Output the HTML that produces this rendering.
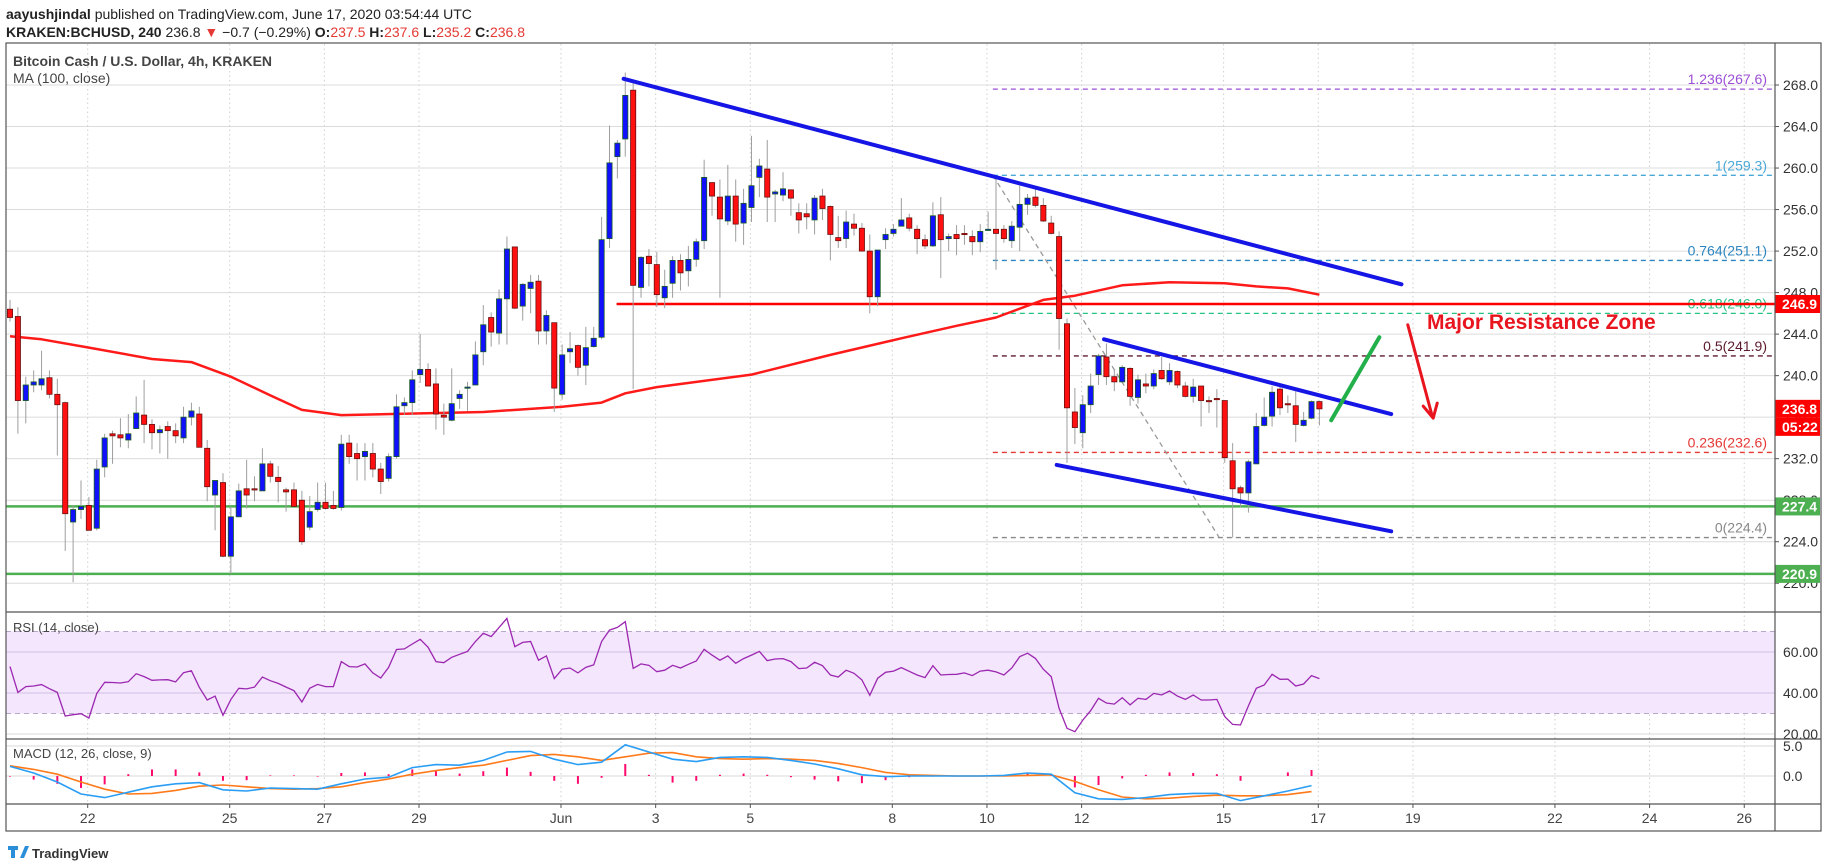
<!DOCTYPE html>
<html><head><meta charset="utf-8">
<style>
html,body{margin:0;padding:0;background:#fff;}
svg{display:block;font-family:"Liberation Sans",sans-serif;}
</style></head>
<body>
<svg id="chart" width="1828" height="868" viewBox="0 0 1828 868" xmlns="http://www.w3.org/2000/svg">
<text x="6" y="19" font-size="14" fill="#222"><tspan font-weight="bold">aayushjindal</tspan> published on TradingView.com, June 17, 2020 03:54:44 UTC</text>
<text x="6" y="37" font-size="14" fill="#222"><tspan font-weight="bold">KRAKEN:BCHUSD, 240</tspan> 236.8 <tspan fill="#e53935">▼</tspan> −0.7 (−0.29%) <tspan font-weight="bold">O:</tspan><tspan fill="#e53935">237.5</tspan> <tspan font-weight="bold">H:</tspan><tspan fill="#e53935">237.6</tspan> <tspan font-weight="bold">L:</tspan><tspan fill="#e53935">235.2</tspan> <tspan font-weight="bold">C:</tspan><tspan fill="#e53935">236.8</tspan></text>
<g id="grid"></g>
<g id="rsiBand"></g>
<g id="levels"></g>
<g id="candles"></g>
<g id="overlay"></g>
<g id="indicators"></g>
<g id="axes"></g>
<rect x="6" y="43" width="1815" height="788" fill="none" stroke="#555" stroke-width="1.2"/>
<line x1="1775" y1="43" x2="1775" y2="831" stroke="#555" stroke-width="1.2"/>
<line x1="6" y1="612" x2="1821" y2="612" stroke="#555" stroke-width="1.2"/>
<line x1="6" y1="739" x2="1821" y2="739" stroke="#555" stroke-width="1.2"/>
<line x1="6" y1="804" x2="1821" y2="804" stroke="#555" stroke-width="1.2"/>
<text x="13" y="66" font-size="14" fill="#444" font-weight="bold">Bitcoin Cash / U.S. Dollar, 4h, KRAKEN</text>
<text x="13" y="83" font-size="14" fill="#444">MA (100, close)</text>
<text x="13" y="632" font-size="13" fill="#444">RSI (14, close)</text>
<text x="13" y="758" font-size="13" fill="#444">MACD (12, 26, close, 9)</text>
<text x="1427" y="329" font-size="21" font-weight="bold" fill="#e8141e">Major Resistance Zone</text>
<g>
<path d="M8 846 h10 v4 h-3 v8 h-4 v-8 h-3z M20 858 l5-12 h4 l-5 12z" fill="#2a8fd8"/>
<text x="32" y="858" font-size="13" fill="#333" font-weight="bold">TradingView</text>
</g>
</svg>
<script>
const NS='http://www.w3.org/2000/svg';
const opens=[246.4,245.7,237.6,239.1,239.1,239.8,238.2,237.4,225.9,227.1,227.5,225.3,231.2,234.4,234.3,233.8,234.9,236.2,235.3,234.5,235.1,234.7,234.0,236.0,236.3,233.0,228.5,229.7,222.6,226.4,229.1,229.1,228.9,231.5,230.2,229.0,229.0,228.0,225.4,227.1,227.8,227.5,227.3,233.5,232.5,232.2,232.5,231.0,230.1,232.2,237.1,237.4,240.1,240.6,239.2,236.2,235.7,237.8,238.8,239.1,242.3,245.6,244.1,247.4,252.4,246.7,248.4,249.1,244.3,245.1,238.2,242.3,242.9,241.0,242.8,243.7,253.2,261.1,262.8,267.5,248.5,251.5,250.7,247.5,248.9,251.1,250.1,251.2,253.0,258.6,257.2,254.9,257.3,254.7,256.2,259.1,259.9,257.5,257.4,257.9,255.7,255.6,255.0,257.3,256.3,253.3,253.2,254.6,254.2,252.0,247.6,253.1,253.7,254.4,255.2,254.1,253.1,252.5,255.5,253.2,253.6,253.7,253.4,252.9,254.0,254.1,254.1,253.0,254.3,256.5,257.2,256.4,254.7,253.4,245.0,236.5,234.5,237.2,240.1,241.8,239.9,239.4,240.7,237.9,239.2,239.0,240.5,239.4,240.4,239.0,238.0,239.0,237.6,237.8,237.6,231.8,229.2,228.7,231.5,235.2,236.1,238.7,237.3,237.1,235.2,235.9,237.5];
const highs=[247.3,246.6,239.9,240.5,242.4,240.5,239.7,237.5,227.5,229.9,228.3,231.9,234.4,234.7,235.9,236.3,238.0,239.6,235.8,235.2,235.6,235.4,237.0,237.4,237.0,233.8,229.8,230.6,227.4,229.6,231.9,230.3,233.0,231.8,231.3,229.2,229.7,228.9,228.4,229.7,229.7,228.9,234.3,234.3,233.5,233.5,233.5,231.6,232.5,238.2,237.9,240.5,244.0,241.2,240.7,237.3,240.7,238.6,239.4,243.3,246.8,246.1,248.3,253.4,252.4,248.9,249.7,249.7,246.3,245.1,243.0,244.2,243.0,244.7,244.7,255.3,264.1,262.7,269.2,268.2,251.5,252.2,251.9,250.2,251.5,251.7,252.5,253.2,260.8,258.6,258.9,260.3,258.9,258.0,263.1,260.9,262.7,257.9,259.6,257.9,256.6,256.6,257.4,258.0,256.4,255.4,255.9,255.6,254.7,253.6,252.1,254.2,254.6,257.1,255.6,254.5,253.6,256.7,257.2,253.7,254.5,254.5,254.0,254.6,255.8,259.1,254.5,254.9,258.3,257.5,258.0,257.1,255.4,253.9,245.5,238.8,238.1,240.2,242.1,243.1,240.6,241.0,240.8,240.1,240.2,240.6,241.8,241.2,240.5,239.4,239.7,239.0,238.0,238.7,237.6,233.5,229.4,231.9,236.4,237.9,239.0,239.1,238.1,238.5,236.5,237.6,237.6];
const lows=[245.2,234.4,235.4,238.4,238.6,237.8,232.3,223.1,220.1,226.2,225.1,225.1,230.2,231.5,233.1,233.0,234.9,233.5,232.9,232.5,232.0,233.5,233.5,235.2,233.1,227.9,225.1,222.5,220.9,226.4,227.2,227.9,228.9,229.7,227.8,226.9,227.4,223.7,225.1,226.9,227.1,227.1,227.0,231.5,229.9,229.9,230.2,228.6,229.8,232.0,236.2,236.2,239.3,239.0,234.8,234.3,235.6,236.8,236.6,239.1,241.0,242.8,243.0,243.0,246.4,245.3,246.0,243.0,243.0,236.5,237.7,241.2,240.0,239.1,242.7,243.5,252.3,259.0,261.1,238.7,247.5,248.6,246.6,246.5,247.5,248.2,248.6,250.5,252.2,255.4,247.5,254.5,252.9,252.6,254.8,257.2,254.8,254.8,256.8,255.4,253.7,254.1,253.6,255.0,251.1,252.3,252.3,253.5,252.0,246.0,246.7,252.2,253.4,254.4,253.9,251.7,252.2,252.4,249.4,252.0,251.6,252.6,251.6,251.9,254.0,250.2,252.8,252.3,252.0,255.5,256.2,254.8,253.6,242.5,231.6,233.4,233.0,236.4,239.1,239.1,238.5,239.3,237.1,237.3,238.3,238.7,239.6,239.1,238.8,237.9,237.4,235.1,236.4,235.0,231.6,224.4,227.3,226.8,231.5,235.1,235.1,236.2,236.4,233.6,235.1,235.8,235.2];
const closes=[245.6,237.6,239.1,239.4,239.7,238.2,237.2,226.7,227.1,227.4,225.1,231.0,234.0,234.2,234.0,234.4,236.4,235.3,234.5,234.8,234.7,234.2,236.0,236.6,233.1,229.3,229.9,222.6,226.4,228.9,228.5,229.0,231.5,230.3,229.8,228.8,227.4,224.0,226.9,227.8,227.2,227.2,233.4,232.2,232.0,232.7,231.0,229.8,232.2,237.0,237.4,239.6,240.6,239.0,236.3,236.0,237.3,238.2,238.9,242.0,244.9,244.2,247.4,252.2,246.5,248.8,249.0,244.3,245.8,238.8,242.0,242.6,240.8,242.7,243.6,253.1,260.5,262.4,267.0,248.7,251.4,250.8,247.8,248.6,251.1,249.9,251.2,252.9,259.1,257.3,255.1,257.3,254.6,256.6,258.3,260.2,257.2,257.7,258.0,257.1,255.0,255.3,257.1,256.1,253.6,253.0,254.8,254.2,252.0,247.6,252.1,253.6,254.1,255.0,254.2,253.2,252.5,255.4,253.1,253.4,253.2,253.6,252.9,253.9,254.1,253.7,253.2,254.4,256.5,257.1,256.4,254.9,253.7,245.5,236.9,235.0,237.2,239.0,241.9,239.9,239.4,240.8,238.0,239.6,239.0,240.2,239.7,240.5,239.1,238.0,238.9,237.6,237.5,237.7,232.1,229.1,228.7,231.7,235.1,236.0,238.4,236.9,237.2,235.3,235.7,237.5,236.8];
const maIndex=[0,4,10,18,23,28,33,37,42,60,70,75,78,82,94,104,113,120,125,131,135,141,147,154,158,162,166];
const maValues=[243.8,243.5,242.7,241.6,241.3,239.9,238.1,236.7,236.2,236.5,237.0,237.4,238.3,238.9,240.1,242.0,243.6,244.8,245.6,247.3,247.7,248.7,249.0,248.9,248.6,248.4,247.8];
const rsiValues=[52.9,40.3,43.1,43.4,44.1,42.1,40.3,28.8,29.4,29.9,27.8,39.8,45.2,45.1,44.9,45.5,49.4,48.0,46.2,46.4,46.5,45.4,49.9,50.9,42.8,36.6,38.5,29.1,36.9,42.3,42.0,42.9,47.8,46.0,44.7,42.9,41.1,35.6,42.3,44.2,43.1,43.1,55.3,52.9,52.7,54.2,49.8,47.3,52.5,61.2,61.5,63.9,66.2,62.3,55.3,54.8,57.4,58.9,60.3,65.1,69.1,67.5,72.0,76.4,62.6,64.7,65.1,56.0,58.1,47.0,51.6,52.2,49.8,52.5,53.7,65.1,70.7,72.0,74.8,52.0,54.2,53.5,50.4,51.1,53.5,52.2,54.0,55.6,61.3,58.5,56.0,58.1,54.5,56.8,58.5,60.3,55.8,56.6,56.8,55.3,51.9,52.2,55.0,53.3,48.8,47.8,51.1,49.6,46.4,38.9,47.2,50.1,50.7,52.4,50.6,48.8,47.5,53.3,48.8,49.0,49.1,49.8,48.5,50.7,51.1,50.3,48.8,52.2,57.7,59.4,56.9,51.6,48.0,32.5,22.8,21.1,26.8,31.4,37.4,35.1,34.6,37.7,34.2,37.4,36.9,39.8,39.0,41.0,38.5,36.9,39.0,36.6,36.6,36.9,28.5,24.7,24.4,33.7,42.3,43.9,49.1,46.7,46.8,43.4,44.4,48.5,47.0];
const macdStep=3;
const macdValues=[1.6,0.5,-1.0,-3.0,-3.6,-2.7,-1.8,-1.3,-1.1,-2.3,-2.5,-2.0,-2.1,-2.2,-1.3,-0.5,-0.2,1.4,1.9,1.8,2.6,4.0,4.1,2.8,1.9,2.3,5.2,4.0,2.8,2.4,3.1,3.2,3.1,2.6,2.0,1.2,0.2,-0.1,0.0,0.0,0.0,0.0,0.1,0.5,0.3,-2.8,-3.8,-3.9,-3.6,-3.1,-2.9,-2.9,-4.1,-3.3,-2.5,-1.6];
const signalValues=[1.7,1.1,0.3,-1.0,-2.2,-3.0,-2.9,-2.4,-1.7,-1.5,-1.8,-2.1,-2.2,-2.1,-1.8,-1.1,-0.5,0.3,0.9,1.4,1.8,2.6,3.4,3.6,3.2,2.6,3.2,3.8,3.9,3.2,2.9,2.8,2.9,2.8,2.6,2.1,1.4,0.6,0.2,0.1,0.0,0.0,0.0,0.1,0.2,-0.9,-2.3,-3.5,-3.8,-3.7,-3.4,-3.2,-3.3,-3.3,-3.1,-2.6];
const priceTicks=[268,264,260,256,252,248,244,240,236,232,228,224,220];
const priceTickLabels=['268.0','264.0','260.0','256.0','252.0','248.0','244.0','240.0','236.0','232.0','228.0','224.0','220.0'];
const rsiTicks=[60,40,20];
const macdTicks=[5,0];
const dayOffsets=[-10,-7,-5,-3,0,2,4,7,9,11,14,16,18,21,23,25];
const dayLabels=['22','25','27','29','Jun','3','5','8','10','12','15','17','19','22','24','26'];
const fibLevels=[267.6,259.3,251.1,246.0,241.9,232.6,224.4];
const fibLabels=['1.236(267.6)','1(259.3)','0.764(251.1)','0.618(246.0)','0.5(241.9)','0.236(232.6)','0(224.4)'];
const fibColors=['#9c4fd6','#4aa8d8','#2e86c1','#26c281','#5d1a2e','#e53935','#888888'];
const supportLevels=[227.4,220.9];
const resistanceLevel=246.9;
const lastPrice=236.8;

const yP=p=>85+(268-p)*10.38;
const xI=i=>10+i*7.888;
const xD=d=>561+d*47.33;
const yR=v=>652+(60-v)*2.05;
const yM=v=>776-v*6;
const PLOT_R=1775;

function mk(tag,attrs,parent){const e=document.createElementNS(NS,tag);for(const k in attrs)e.setAttribute(k,attrs[k]);parent.appendChild(e);return e;}
const G=id=>document.getElementById(id);

// grid
const grid=G('grid');
priceTicks.forEach((t,k)=>{
 const l=mk('line',{x1:6,x2:PLOT_R,y1:yP(t),y2:yP(t),stroke:'#dcdcdc','stroke-width':1},grid);
 
 
 const tx=mk('text',{x:1783,y:yP(t)+5,'font-size':14,fill:'#333'},G('axes'));
 tx.textContent=priceTickLabels[k];
 
 
 mk('line',{x1:1775,x2:1779,y1:yP(t),y2:yP(t),stroke:'#555'},G('axes'));
});
dayOffsets.forEach((d,k)=>{
 const l=mk('line',{x1:xD(d),x2:xD(d),y1:44,y2:804,stroke:'#cfcfcf','stroke-dasharray':'1.5,3'},grid);
 
 
 const tx=mk('text',{x:xD(d),y:823,'font-size':14,fill:'#444','text-anchor':'middle'},G('axes'));
 tx.textContent=dayLabels[k];
 
 
 mk('line',{x1:xD(d),x2:xD(d),y1:804,y2:808,stroke:'#555'},G('axes'));
});

// RSI band
const rb=G('rsiBand');
const band=mk('rect',{x:6,y:yR(70),width:PLOT_R-6,height:yR(30)-yR(70),fill:'#f3e6fd'},rb);


[70,30].forEach(v=>mk('line',{x1:6,x2:PLOT_R,y1:yR(v),y2:yR(v),stroke:'#b8a8c8','stroke-dasharray':'5,4'},rb));
rsiTicks.forEach(v=>{
 mk('line',{x1:6,x2:PLOT_R,y1:yR(v),y2:yR(v),stroke:v===20?'#d8d8d8':'#d2c2e2'},rb);
 const tx=mk('text',{x:1783,y:yR(v)+5,'font-size':14,fill:'#333'},G('axes'));
 tx.textContent=v.toFixed(2);
 
 
});
macdTicks.forEach(v=>{
 mk('line',{x1:6,x2:PLOT_R,y1:yM(v),y2:yM(v),stroke:'#d8d8d8'},rb);
 const tx=mk('text',{x:1783,y:yM(v)+5,'font-size':14,fill:'#333'},G('axes'));
 tx.textContent=v.toFixed(1);
 
 
});

// levels
const lv=G('levels');
const fibStartIdx=124.6;
fibLevels.forEach((p,k)=>{
 const l=mk('line',{x1:xI(fibStartIdx),x2:PLOT_R,y1:yP(p),y2:yP(p),stroke:fibColors[k],'stroke-width':1.3,'stroke-dasharray':'5,4'},lv);
 
 
 const tx=mk('text',{x:1767,y:yP(p)-5,'font-size':14,fill:fibColors[k],'text-anchor':'end'},lv);
 tx.textContent=fibLabels[k];
 
 
});
const fd=mk('line',{x1:xI(fibStartIdx),y1:yP(fibLevels[1]),x2:xI(153.3),y2:yP(fibLevels[6]),stroke:'#999','stroke-width':1.3,'stroke-dasharray':'5,4'},lv);


supportLevels.forEach(p=>{
 const l=mk('line',{x1:6,x2:PLOT_R,y1:yP(p),y2:yP(p),stroke:'#4caf50','stroke-width':2.5},lv);
 
 
});
const rl=mk('line',{x1:xI(76.9),x2:PLOT_R,y1:yP(resistanceLevel),y2:yP(resistanceLevel),stroke:'#ff0000','stroke-width':2.5},lv);



// MA
let d='';
maIndex.forEach((i,k)=>{d+=(k?'L':'M')+xI(i).toFixed(1)+' '+yP(maValues[k]).toFixed(1);});
const ma=mk('path',{d:d,fill:'none',stroke:'#ff1a1a','stroke-width':2.5,'stroke-linejoin':'round'},G('candles'));



// candles
const cg=G('candles');
closes.forEach((c,i)=>{
 const o=opens[i],h=highs[i],l=lows[i],x=xI(i),up=c>=o;
 const g=mk('g',{},cg);
 
 
 mk('line',{x1:x,x2:x,y1:yP(h),y2:yP(l),stroke:'#9e9e9e','stroke-width':1},g);
 const top=yP(Math.max(o,c)),bot=yP(Math.min(o,c));
 mk('rect',{x:x-2.6,y:top,width:5.2,height:Math.max(1.2,bot-top),fill:up?'#1010ff':'#ff1010',stroke:up?'#1b5e20':'#6b0f0f','stroke-width':0.8},g);
});

// drawings
const ov=G('overlay');
function tl(a,name,color,w){const l=mk('line',{x1:xI(a[0]),y1:yP(a[1]),x2:xI(a[2]),y2:yP(a[3]),stroke:color,'stroke-width':w,'stroke-linecap':'round'},ov);return l;}
const topTrend=[77.8,268.6,176.4,248.8];
const channelUpper=[138.7,243.5,175.1,236.3];
const channelLower=[132.7,231.4,175.1,225.0];
const greenArrow=[167.5,235.7,173.6,243.7];
const redArrow=[177.2,244.9,180.3,236.1];
tl(topTrend,'bearish-trend-line','#1515e6',4);
tl(channelUpper,'channel-upper-line','#1515e6',4);
tl(channelLower,'channel-lower-line','#1515e6',4);
tl(greenArrow,'bullish-arrow','#22b04a',4);
tl(redArrow,'bearish-arrow','#e8141e',3);
const ax=xI(redArrow[2]),ay=yP(redArrow[3]);
const ah=mk('path',{d:`M${ax-9} ${ay-10} L${ax+1} ${ay+2} L${ax+5} ${ay-13}`,fill:'none',stroke:'#e8141e','stroke-width':3,'stroke-linecap':'round','stroke-linejoin':'round'},ov);



// indicators
const ig=G('indicators');
let rp='';
rsiValues.forEach((v,i)=>{rp+=(i?'L':'M')+xI(i).toFixed(1)+' '+yR(v).toFixed(1);});
const rsi=mk('path',{d:rp,fill:'none',stroke:'#9c27b0','stroke-width':1.3},ig);


macdValues.forEach((m,k)=>{
 const h=m-signalValues[k];
 const b=mk('line',{x1:xI(k*macdStep),x2:xI(k*macdStep),y1:yM(0),y2:yM(h),stroke:'#ff0a6c','stroke-width':2},ig);
 
 
});
let mp='',sp='';
macdValues.forEach((m,k)=>{mp+=(k?'L':'M')+xI(k*macdStep).toFixed(1)+' '+yM(m).toFixed(1);sp+=(k?'L':'M')+xI(k*macdStep).toFixed(1)+' '+yM(signalValues[k]).toFixed(1);});
const sl=mk('path',{d:sp,fill:'none',stroke:'#ff7a1a','stroke-width':1.6},ig);


const ml=mk('path',{d:mp,fill:'none',stroke:'#2a9df4','stroke-width':1.6},ig);



// price badges
function badge(p,txt,color,name,dy){
 const g=mk('g',{},G('axes'));
 
 
 const y=yP(p)+(dy||0);
 mk('rect',{x:1775,y:y-9,width:45,height:18,fill:color},g);
 const t=mk('text',{x:1782,y:y+5,'font-size':14,'font-weight':'bold',fill:'#fff'},g);
 t.textContent=txt;
}
badge(resistanceLevel,resistanceLevel.toFixed(1),'#ff0000','resistance-price-badge');
badge(lastPrice,lastPrice.toFixed(1),'#ff0000','last-price-badge');
badge(lastPrice,'05:22','#ff0000','countdown-badge',18);
badge(supportLevels[0],supportLevels[0].toFixed(1),'#4caf50','support-price-badge');
badge(supportLevels[1],supportLevels[1].toFixed(1),'#4caf50','support-price-badge-2');
</script>
</body></html>
